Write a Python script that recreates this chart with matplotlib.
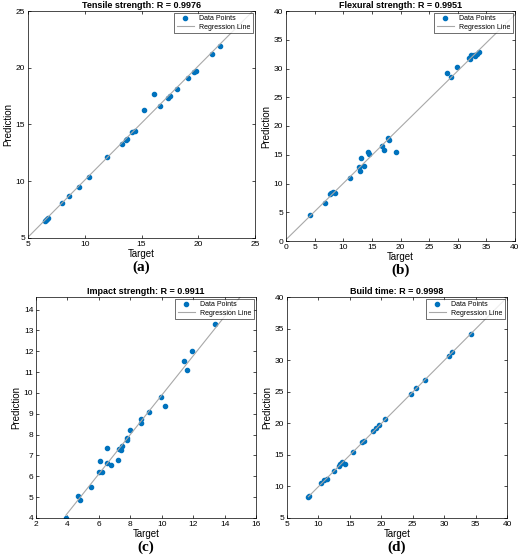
import numpy as np
import matplotlib
matplotlib.use("Agg")
import matplotlib.pyplot as plt

plt.rcParams['font.family'] = ['Liberation Sans', 'DejaVu Sans']

# panel data (target, prediction)
tensile_x = [6.5, 6.6, 6.7, 6.8, 8.0, 8.6, 9.5, 10.4, 12.0, 13.3, 13.6, 13.7, 14.2, 14.4, 15.2, 16.1, 16.6, 17.3, 17.5, 18.1, 19.1, 19.6, 19.8, 21.2, 21.9]
tensile_y = [6.5, 6.6, 6.7, 6.8, 8.1, 8.7, 9.5, 10.4, 12.1, 13.3, 13.6, 13.7, 14.3, 14.4, 16.3, 17.7, 16.6, 17.3, 17.5, 18.1, 19.1, 19.6, 19.7, 21.2, 21.9]
flex_x = [4.2, 6.8, 7.6, 7.8, 8.2, 8.6, 11.1, 12.8, 12.9, 13.1, 13.6, 14.4, 14.5, 16.7, 17.1, 17.8, 18.0, 19.2, 28.1, 28.9, 29.8, 31.9, 32.1, 32.4, 32.8, 33.1, 33.4, 33.7]
flex_y = [4.6, 6.6, 8.2, 8.3, 8.6, 8.3, 10.9, 12.8, 12.2, 14.5, 13.0, 15.4, 15.1, 16.5, 15.8, 17.9, 17.5, 15.5, 29.3, 28.5, 30.3, 31.9, 31.6, 32.3, 32.3, 32.2, 32.5, 32.9]
impact_x = [3.9, 4.7, 4.8, 5.5, 6.0, 6.05, 6.2, 6.5, 6.5, 6.8, 7.2, 7.3, 7.4, 7.5, 7.8, 7.8, 8.0, 8.7, 8.7, 9.2, 9.95, 10.2, 11.4, 11.6, 11.9, 13.4]
impact_y = [4.0, 5.05, 4.85, 5.5, 6.2, 6.75, 6.2, 7.35, 6.65, 6.55, 6.8, 7.3, 7.25, 7.45, 7.85, 7.75, 8.2, 8.75, 8.55, 9.1, 9.8, 9.35, 11.55, 11.1, 12.0, 13.3]
build_x = [8.4, 8.5, 10.4, 10.9, 11.4, 12.5, 13.2, 13.4, 13.8, 14.3, 15.5, 17.0, 17.2, 18.7, 19.2, 19.7, 20.6, 24.8, 25.6, 26.9, 30.8, 31.3, 34.3]
build_y = [8.4, 8.5, 10.5, 11.0, 11.1, 12.5, 13.3, 13.5, 13.8, 13.5, 15.5, 17.0, 17.2, 18.7, 19.3, 19.7, 20.6, 24.7, 25.6, 26.8, 30.7, 31.3, 34.2]

titles = ['Tensile strength: R = 0.9976', 'Flexural strength: R = 0.9951',
          'Impact strength: R = 0.9911', 'Build time: R = 0.9998']
letters = ['(a)', '(b)', '(c)', '(d)']

panels = [
    (tensile_x, tensile_y, (5, 25), (5, 25), [5, 10, 15, 20, 25], [5, 10, 15, 20, 25], 5),
    (flex_x, flex_y, (0, 40), (0, 40), range(0, 41, 5), range(0, 41, 5), 0),
    (impact_x, impact_y, (2, 16), (4, 14.6), range(2, 17, 2), range(4, 15), 3.9),
    (build_x, build_y, (5, 40), (5, 40), range(5, 41, 5), range(5, 41, 5), 8.4),
]
# axes rectangles in figure fraction (left, bottom, width, height)
rects = [
    (28/520, 1-238/558, 227/520, 227/558),
    (286/520, 1-241/558, 229/520, 230/558),
    (36/520, 1-518/558, 220/520, 221/558),
    (287/520, 1-518/558, 220/520, 221/558),
]

fig = plt.figure(figsize=(5.2, 5.58), dpi=100)
for (x, y, xl, yl, xt, yt, x0), rect, title, letter in zip(panels, rects, titles, letters):
    ax = fig.add_axes(rect)
    x = np.array(x); y = np.array(y)
    b, a = np.polyfit(x, y, 1)
    xs = np.linspace(x0, xl[1], 50)
    ax.plot(x, y, 'o', color='#0072BD', ms=3.0, label='Data Points')
    ax.plot(xs, a + b * xs, color='#a8a8a8', lw=0.8, label='Regression Line')
    ax.set_xlim(xl); ax.set_ylim(yl)
    ax.set_xticks(list(xt)); ax.set_yticks(list(yt))
    ax.tick_params(labelsize=6, direction='in', length=2, width=0.5, top=True, right=True, pad=2)
    for s in ax.spines.values():
        s.set_linewidth(0.5)
    ax.set_title(title, fontsize=6.5, fontweight='bold', pad=2)
    ax.set_xlabel('Target', fontsize=7, labelpad=1)
    ax.set_ylabel('Prediction', fontsize=7, labelpad=2)
    ax.legend(loc='upper right', fontsize=5, frameon=True, fancybox=False, edgecolor='black',
              borderpad=0.3, handlelength=2.5, labelspacing=0.2, borderaxespad=0.3).get_frame().set_linewidth(0.5)
    cx = rect[0] + rect[2] / 2
    fig.text(cx, rect[1] - 29/558, letter, ha='center', va='center', fontsize=11,
             fontweight='bold', family=['Liberation Serif', 'DejaVu Serif'])

fig.savefig('out.png', dpi=100)
